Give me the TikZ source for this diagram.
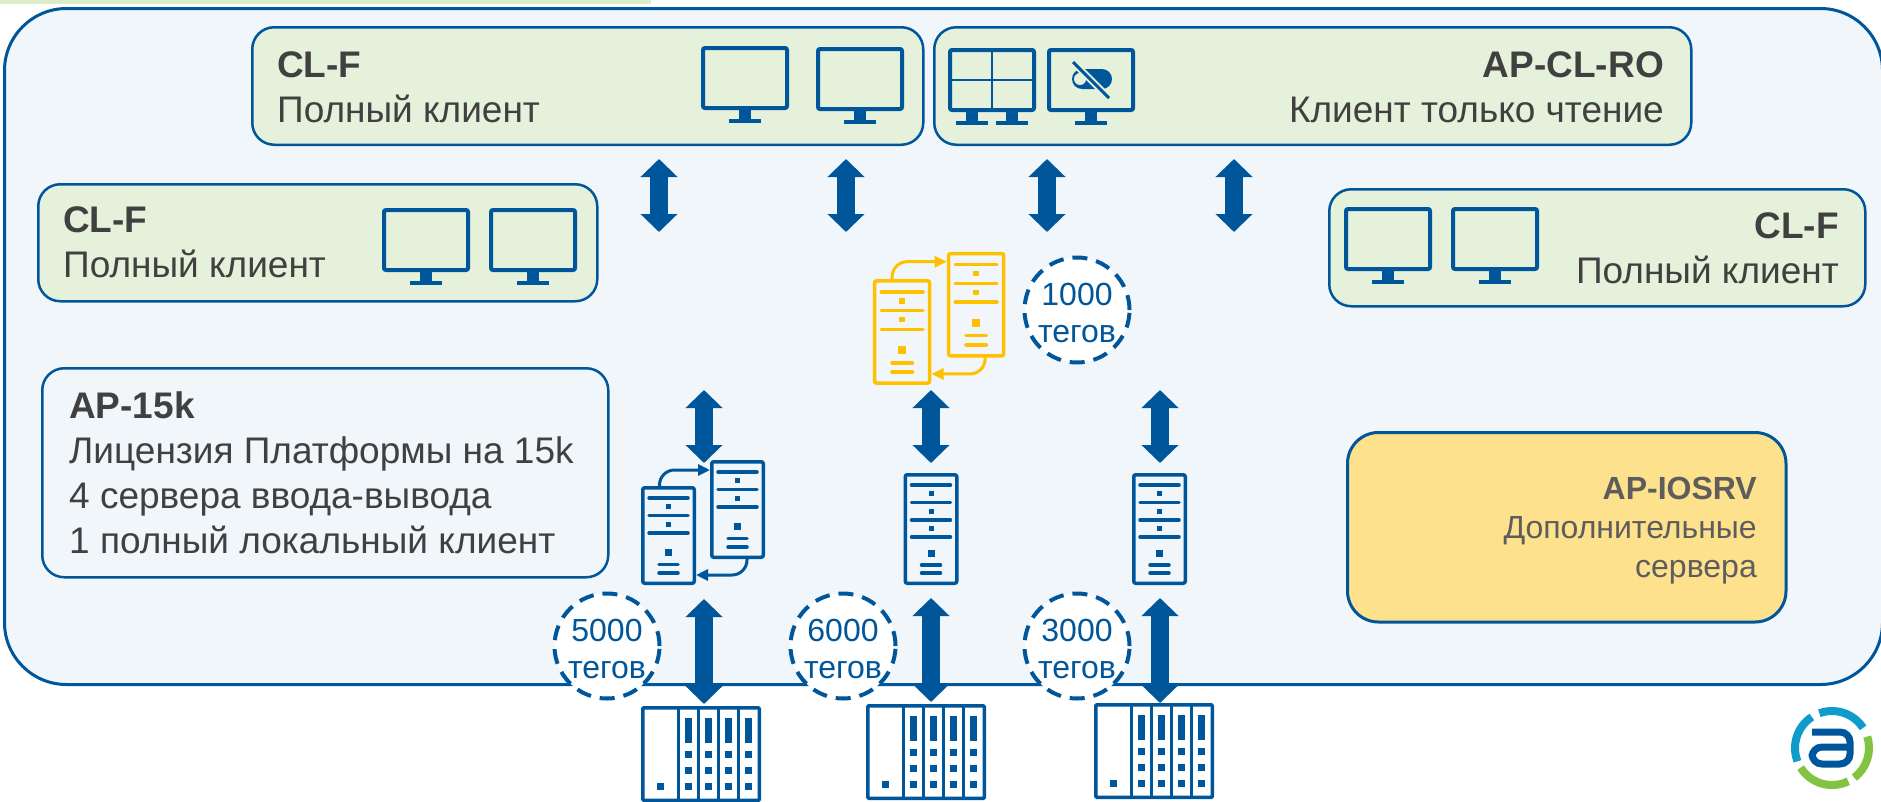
\documentclass[tikz,border=0pt]{standalone}
\usepackage{fontspec}
\setmainfont{Liberation Sans}
\usetikzlibrary{arrows.meta}
\definecolor{agblue}{HTML}{00569B}
\definecolor{agpanel}{HTML}{F1F6FA}
\definecolor{aggreen}{HTML}{E5F1DA}
\definecolor{agbar}{HTML}{DCEBC8}
\definecolor{agsand}{HTML}{FEE18C}
\definecolor{agamber}{HTML}{FFC000}
\definecolor{agtext}{HTML}{404040}
\definecolor{agteal}{HTML}{0F9BCB}
\definecolor{aglime}{HTML}{82C341}
\colorlet{icon}{agblue}
\newcommand{\icondot}[3]{\fill[icon] ({#1-#3/2},{#2-#3/2}) rectangle ++(#3,#3);}
\tikzset{
    panelbox/.style={draw=agblue,line width=3pt,fill=agpanel,rounded corners=62pt,
        anchor=north west,inner sep=0pt},
    tilebox/.style={draw=agblue,line width=2.5pt,fill=aggreen,rounded corners=22pt,
        anchor=north west,inner sep=0pt},
    bigtxt/.style={text=agtext,inner sep=0pt,font=\fontsize{37}{45}\selectfont},
    bothway/.style={draw=agblue,line width=18pt,
        {Triangle[length=18pt,width=36pt]}-{Triangle[length=18pt,width=36pt]}},
    tagring/.style={circle,draw=agblue,line width=4pt,fill=white,dash pattern=on 15pt off 9pt,
        minimum size=105pt,inner sep=0pt},
    tagtxt/.style={text=agblue,inner sep=0pt,align=center,font=\fontsize{32}{37}\selectfont},
    swapflow/.style={draw=icon,line width=3pt,rounded corners=15pt,-{Triangle[length=12pt,width=11pt]}},
    iconbox/.style={draw=icon,line width=4pt,rounded corners=2pt,anchor=north west,
        inner sep=0pt,minimum width=84pt},
    srvline/.style={draw=icon,line width=3.5pt,line cap=round},
    pics/stand/.style={code={
        \fill[icon] (-6,0) rectangle (6,9);
        \fill[icon] (-16,9) rectangle (16,13);
    }},
    pics/monitor/.style={code={
        \node[iconbox,minimum height=60pt] (body) at (0,0) {};
        \pic at (44,64) {stand};
    }},
    pics/videowall/.style={code={
        \node[iconbox,minimum height=60pt] (body) at (0,0) {};
        \draw[icon,line width=1.5pt] (44,3) -- (44,61) (3,32) -- (85,32);
        \pic at (24,64) {stand};
        \pic at (64,64) {stand};
    }},
    pics/viewonly/.style={code={
        \node[iconbox,minimum height=60pt] (body) at (0,0) {};
        \pic at (44,64) {stand};
        \fill[icon,rounded corners=10pt] (25,21) rectangle (65,41);
        \fill[aggreen] (33,31) circle (6);
        \draw[aggreen,line width=7pt] (26,14) -- (62,50);
        \draw[icon,line width=3pt] (26,14) -- (62,50);
    }},
    pics/srvthree/.style={code={
        \node[iconbox,line width=3.5pt,minimum width=51.5pt,minimum height=95.5pt] (body) at (0,0) {};
        \foreach \ly in {12,29.5,47} {\draw[srvline] (8,\ly) -- (47,\ly);}
        \foreach \dy in {20.5,38} {\icondot{27.5}{\dy}{5}}
        \icondot{27.5}{66.5}{7}
        \foreach \ly in {78.5,87} {\draw[srvline] (18,\ly) -- (37,\ly);}
    }},
    pics/srvfour/.style={code={
        \node[iconbox,line width=3.5pt,minimum width=51.5pt,minimum height=108.5pt] (body) at (0,0) {};
        \foreach \ly in {12,29.5,47,64} {\draw[srvline] (8,\ly) -- (47,\ly);}
        \foreach \dy in {20.5,38,55.5} {\icondot{27.5}{\dy}{5}}
        \icondot{27.5}{80}{7}
        \foreach \ly in {92,100} {\draw[srvline] (18,\ly) -- (37,\ly);}
    }},
    pics/rack/.style={code={
        \node[iconbox,line width=3.5pt,rounded corners=1pt,minimum width=116.5pt,minimum height=92.5pt] (body) at (0,0) {};
        \foreach \rx in {37.5,57.5,77.5,97.5} {\draw[icon,line width=3.5pt] (\rx,0) -- (\rx,96);}
        \foreach \rx in {47.5,67.5,87.5,107.5} {
            \fill[icon] (\rx-3.5,12) rectangle (\rx+3.5,37);
            \foreach \dy in {48,64,80} {\icondot{\rx}{\dy}{7}}
        }
        \icondot{19.5}{80}{7}
    }},
    pics/agaulogo/.style={code={
        \begin{scope}[yscale=-1,line width=8pt]
            \draw[agteal] (110:37) arc (110:33:37);
            \draw[agteal] (123:37) arc (123:201:37);
            \draw[aglime] (18:37) arc (18:-53:37);
            \draw[aglime] (-64:37) arc (-64:-148:37);
        \end{scope}
        \draw[agblue,line width=7pt,rounded corners=10pt]
            (-20,-16) -- (18,-16) -- (18,16) -- (-20,16) -- (-20,-1) -- (18,-1);
    }},
}
\begin{document}
\begin{tikzpicture}[x=1pt,y=-1pt]
    \path[use as bounding box,fill=white] (0,0) rectangle (1881,801);
    \fill[agbar] (0,0) rectangle (651,4);
    \node[panelbox,minimum width=1878pt,minimum height=676pt] (platform) at (3,7) {};
    % client tiles
    \node[tilebox,minimum width=671pt,minimum height=117.5pt] (clfa) at (251,26) {};
    \node[tilebox,minimum width=757pt,minimum height=117.5pt] (clro) at (933,26) {};
    \node[tilebox,minimum width=559pt,minimum height=117pt] (clfb) at (37,183) {};
    \node[tilebox,minimum width=536pt,minimum height=117pt] (clfc) at (1328,188) {};
    \node[tilebox,fill=agpanel,minimum width=566pt,minimum height=209pt] (apk) at (41,367) {};
    \node[tilebox,fill=agsand,line width=3pt,rounded corners=31pt,minimum width=438.5pt,minimum height=189.5pt] (iosrv) at (1346,431) {};
    \node[bigtxt,anchor=base west,align=left] (clfatxt) at (277,122) {\textbf{CL-F}\\Полный клиент};
    \node[bigtxt,anchor=base east,align=right] (clrotxt) at (1664,122) {\textbf{AP-CL-RO}\\Клиент только чтение};
    \node[bigtxt,anchor=base west,align=left] (clfbtxt) at (63,277) {\textbf{CL-F}\\Полный клиент};
    \node[bigtxt,anchor=base east,align=right] (clfctxt) at (1839,283) {\textbf{CL-F}\\Полный клиент};
    \node[bigtxt,anchor=base west,align=left] (apktxt) at (69,553) {\textbf{AP-15k}\\Лицензия Платформы на 15k\\4 сервера ввода-вывода\\1 полный локальный клиент};
    \node[bigtxt,anchor=base east,align=right,text=agtext!85,font=\fontsize{32}{39}\selectfont] (iosrvtxt) at (1757,577) {\textbf{AP-IOSRV}\\Дополнительные\\сервера};
    % monitors
    \pic (ma) at (701,46) {monitor};
    \pic (mb) at (816,47) {monitor};
    \pic (mc) at (948,48) {videowall};
    \pic (md) at (1047,48) {viewonly};
    \pic (me) at (382,208) {monitor};
    \pic (mf) at (489,208) {monitor};
    \pic (mg) at (1344,207) {monitor};
    \pic (mh) at (1451,207) {monitor};
    % servers
    \pic (sa) at (641,486) {srvthree};
    \pic (sb) at (710,460) {srvthree};
    \pic (sc) at (903.5,473) {srvfour};
    \pic (sd) at (1132,473) {srvfour};
    \draw[swapflow] ([xshift=-9pt]sabody.north) |- ([yshift=-10pt]sbbody.north west);
    \draw[swapflow] ([xshift=9.5pt]sbbody.south) |- ([yshift=10pt]sabody.south east);
    \begin{scope}
        \colorlet{icon}{agamber}
        \pic[scale=1.07,transform shape] (ya) at (872.7,279) {srvthree};
        \pic[scale=1.07,transform shape] (yb) at (946.7,251.7) {srvthree};
        \draw[swapflow] ([xshift=-10pt]yabody.north) |- ([yshift=-10pt]ybbody.north west);
        \draw[swapflow] ([xshift=9pt]ybbody.south) |- ([yshift=11pt]yabody.south east);
    \end{scope}
    % racks
    \pic (ra) at (641,706) {rack};
    \pic (rb) at (866,704) {rack};
    \pic (rc) at (1094,703) {rack};
    % tag counters
    \foreach \tagx/\tagy/\tagname/\tagval in {607/646/ta/5000,843/646/tb/6000,1077/646/tc/3000,1077/310/td/1000} {
        \node[tagring] (\tagname) at (\tagx,\tagy) {};
        \node[tagtxt,yshift=-3pt] (\tagname txt) at (\tagname) {\tagval\\тегов};
    }
    % arrows
    \foreach \ax in {659,846,1047,1234} {
        \coordinate (up\ax) at (\ax,159);
        \coordinate (dn\ax) at (\ax,232);
        \draw[bothway] (up\ax) -- (dn\ax);
    }
    \foreach \ax in {704,931,1160} {
        \coordinate (hi\ax) at (\ax,390);
        \coordinate (lo\ax) at (\ax,463);
        \draw[bothway] (hi\ax) -- (lo\ax);
    }
    \coordinate (pa) at (704,599);
    \coordinate (pb) at (931,598);
    \coordinate (pc) at (1160,598);
    \draw[bothway,shorten >=2pt] (pa) -- (pa |- rabody.north);
    \draw[bothway,shorten >=2pt] (pb) -- (pb |- rbbody.north);
    \draw[bothway] (pc) -- (pc |- rcbody.north);
    \pic at (1832,748) {agaulogo};
\end{tikzpicture}
\end{document}
